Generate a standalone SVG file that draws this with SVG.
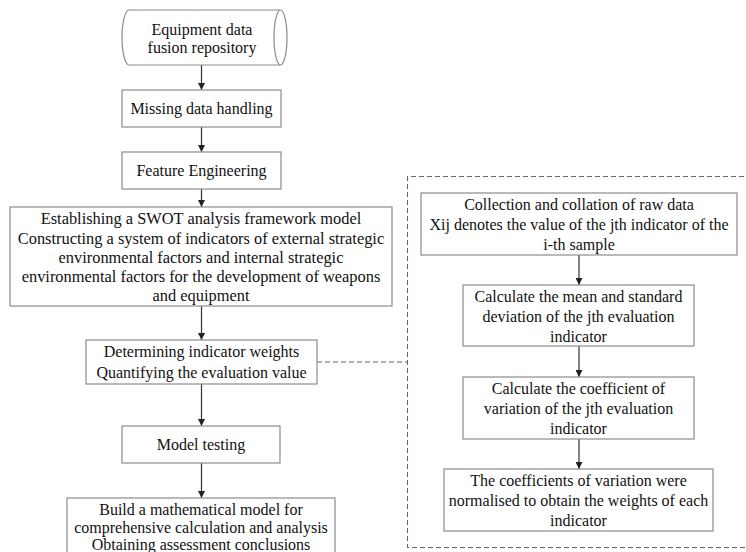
<svg xmlns="http://www.w3.org/2000/svg" width="746" height="552" viewBox="0 0 746 552">
<style>
.box{fill:#fff;stroke:#8c8c8c;stroke-width:1.2}
.t{font-family:'Liberation Serif','Times New Roman',serif;font-size:16px;fill:#111;text-anchor:middle;dominant-baseline:central}
.arr{stroke:#333;stroke-width:1.2;fill:none;marker-end:url(#ah)}
.dash{stroke:#666;stroke-width:1.1;fill:none;stroke-dasharray:5,3}
</style>
<defs>
<marker id="ah" viewBox="0 0 8 8" refX="8" refY="4" markerWidth="7" markerHeight="7" markerUnits="userSpaceOnUse" orient="auto">
<path d="M0,0 L8,4 L0,8 Z" fill="#222"/>
</marker>
</defs>
<rect width="746" height="552" fill="#fff"/>
<g id="connectors">
<line class="arr" x1="201.5" y1="65" x2="201.5" y2="90"/>
<line class="arr" x1="201.5" y1="127" x2="201.5" y2="152"/>
<line class="arr" x1="201.5" y1="189" x2="201.5" y2="207"/>
<line class="arr" x1="201.5" y1="306" x2="201.5" y2="340"/>
<line class="arr" x1="201.5" y1="384" x2="201.5" y2="426"/>
<line class="arr" x1="201.5" y1="463" x2="201.5" y2="498"/>
<line class="arr" x1="579" y1="255" x2="579" y2="285"/>
<line class="arr" x1="579" y1="346" x2="579" y2="377"/>
<line class="arr" x1="579" y1="439" x2="579" y2="469"/>
<line class="dash" x1="317" y1="362" x2="407.5" y2="362"/>
<path class="dash" d="M760,176.5 L407.5,176.5 L407.5,547.5 L760,547.5"/>
</g>
<g id="n1">
<path class="box" d="M129,10 L280.5,10 A6.5,27.5 0 0 1 280.5,65 L129,65 A7,27.5 0 0 1 129,10 Z"/>
<path class="box" d="M280.5,65 A6.5,27.5 0 0 1 280.5,10" fill="none"/>
<text class="t" x="202" y="29">Equipment data</text>
<text class="t" x="202" y="47">fusion repository</text>
</g>
<g id="n2">
<rect class="box" x="122" y="90" width="159" height="37"/>
<text class="t" x="201.5" y="108.5">Missing data handling</text>
</g>
<g id="n3">
<rect class="box" x="122" y="152" width="159" height="37"/>
<text class="t" x="201.5" y="170.5">Feature Engineering</text>
</g>
<g id="n4">
<rect class="box" x="10" y="207" width="382" height="99"/>
<text class="t" x="201" y="218" style="font-size:16.4px">Establishing a SWOT analysis framework model</text>
<text class="t" x="201" y="238" style="font-size:16.4px">Constructing a system of indicators of external strategic</text>
<text class="t" x="201" y="257" style="font-size:16.4px">environmental factors and internal strategic</text>
<text class="t" x="201" y="276" style="font-size:16.4px">environmental factors for the development of weapons</text>
<text class="t" x="201" y="295" style="font-size:16.4px">and equipment</text>
</g>
<g id="n5">
<rect class="box" x="86" y="340" width="231" height="44"/>
<text class="t" x="201.5" y="351">Determining indicator weights</text>
<text class="t" x="201.5" y="372">Quantifying the evaluation value</text>
</g>
<g id="n6">
<rect class="box" x="122" y="426" width="158" height="37"/>
<text class="t" x="201" y="444.5">Model testing</text>
</g>
<g id="n7">
<rect class="box" x="67" y="498" width="268" height="70"/>
<text class="t" x="201" y="509">Build a mathematical model for</text>
<text class="t" x="201" y="527">comprehensive calculation and analysis</text>
<text class="t" x="201" y="544">Obtaining assessment conclusions</text>
</g>
<g id="r1">
<rect class="box" x="421" y="193" width="316" height="62"/>
<text class="t" x="579" y="204">Collection and collation of raw data</text>
<text class="t" x="579" y="224">Xij denotes the value of the jth indicator of the</text>
<text class="t" x="579" y="244">i-th sample</text>
</g>
<g id="r2">
<rect class="box" x="463" y="285" width="231" height="61"/>
<text class="t" x="578.5" y="296">Calculate the mean and standard</text>
<text class="t" x="578.5" y="316">deviation of the jth evaluation</text>
<text class="t" x="578.5" y="336">indicator</text>
</g>
<g id="r3">
<rect class="box" x="463" y="377" width="231" height="62"/>
<text class="t" x="578.5" y="388">Calculate the coefficient of</text>
<text class="t" x="578.5" y="408">variation of the jth evaluation</text>
<text class="t" x="578.5" y="428">indicator</text>
</g>
<g id="r4">
<rect class="box" x="444" y="469" width="269" height="62"/>
<text class="t" x="578.5" y="480">The coefficients of variation were</text>
<text class="t" x="578.5" y="500">normalised to obtain the weights of each</text>
<text class="t" x="578.5" y="520">indicator</text>
</g>
</svg>
